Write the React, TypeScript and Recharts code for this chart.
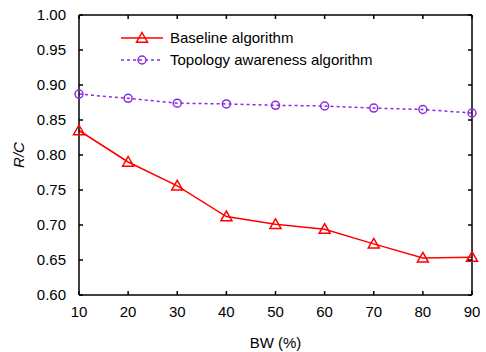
import React from 'react';
import { LineChart, Line, XAxis, YAxis } from 'recharts';

const bw = [10, 20, 30, 40, 50, 60, 70, 80, 90];
const baseline = [0.835, 0.79, 0.756, 0.712, 0.701, 0.694, 0.673, 0.653, 0.654];
const topology = [0.887, 0.881, 0.874, 0.873, 0.871, 0.87, 0.867, 0.865, 0.86];
const yTicks = [0.6, 0.65, 0.7, 0.75, 0.8, 0.85, 0.9, 0.95, 1.0];

const RED = '#ff0000';
const PURPLE = '#8a2be2';
const FONT = 'Liberation Sans, Arial, sans-serif';
const TICK = 4;
const MARGIN = 12;

const rows = bw.map((b, i) => ({ bw: b, baseline: baseline[i], topology: topology[i] }));

const Triangle = (props: any) => {
  const { cx, cy, stroke } = props;
  if (cx == null || cy == null) return null;
  const s = 5.5;
  return (
    <path
      d={`M${cx},${cy - s} L${cx + s},${cy + s * 0.75} L${cx - s},${cy + s * 0.75} Z`}
      fill="none"
      stroke={stroke}
      strokeWidth={1.5}
    />
  );
};

const Circle = (props: any) => {
  const { cx, cy, stroke } = props;
  if (cx == null || cy == null) return null;
  return <circle cx={cx} cy={cy} r={4} fill="none" stroke={stroke} strokeWidth={1.5} />;
};

// ticks drawn inward, labels outside
const BottomTick = (props: any) => {
  const { x, y, payload } = props;
  const ay = y - MARGIN;
  return (
    <g>
      <line x1={x} y1={ay} x2={x} y2={ay - TICK} stroke="#000" strokeWidth={1.5} />
      <text x={x} y={y + 10} textAnchor="middle" fontSize={15} fontFamily={FONT} fill="#000">{payload.value}</text>
    </g>
  );
};

const LeftTick = (props: any) => {
  const { x, y, payload } = props;
  const ax = x + MARGIN;
  return (
    <g>
      <line x1={ax} y1={y} x2={ax + TICK} y2={y} stroke="#000" strokeWidth={1.5} />
      <text x={x - 1} y={y + 5} textAnchor="end" fontSize={15} fontFamily={FONT} fill="#000">{Number(payload.value).toFixed(2)}</text>
    </g>
  );
};

const TopTick = (props: any) => {
  const { x, y } = props;
  return <line x1={x} y1={y} x2={x} y2={y + TICK} stroke="#000" strokeWidth={1.5} />;
};

const RightTick = (props: any) => {
  const { x, y } = props;
  return <line x1={x} y1={y} x2={x - TICK} y2={y} stroke="#000" strokeWidth={1.5} />;
};

const LegendBox = () => (
  <svg width={270} height={44} style={{ fontFamily: FONT, display: 'block' }}>
    <line x1={0} y1={10} x2={42} y2={10} stroke={RED} strokeWidth={1.5} />
    <Triangle cx={21} cy={10} stroke={RED} />
    <text x={49} y={15} fontSize={15} fill="#000">Baseline algorithm</text>
    <line x1={0} y1={32} x2={42} y2={32} stroke={PURPLE} strokeWidth={1.5} strokeDasharray="3 3" />
    <Circle cx={21} cy={32} stroke={PURPLE} />
    <text x={49} y={37} fontSize={15} fill="#000">Topology awareness algorithm</text>
  </svg>
);

export default function App() {
  return (
    <div style={{ position: 'absolute', left: 0, top: 0, width: 486, height: 352, background: '#fff' }}>
      <LineChart width={486} height={352} data={rows} margin={{ top: 14, right: 13, bottom: 0, left: 0 }}>
        <XAxis
          dataKey="bw"
          type="number"
          domain={[10, 90]}
          ticks={bw}
          stroke="#000"
          strokeWidth={1.5}
          tickSize={0}
          tickMargin={MARGIN}
          tickLine={false}
          tick={<BottomTick />}
          height={57}
          label={{ value: 'BW (%)', position: 'insideBottom', offset: 4, style: { fontSize: 15, fill: '#000', fontFamily: FONT } }}
        />
        <XAxis
          xAxisId="top"
          dataKey="bw"
          type="number"
          domain={[10, 90]}
          ticks={bw}
          orientation="top"
          stroke="#000"
          strokeWidth={1.5}
          tickSize={0}
          tickMargin={0}
          tickLine={false}
          tick={<TopTick />}
          height={1}
        />
        <YAxis
          type="number"
          domain={[0.6, 1.0]}
          ticks={yTicks}
          stroke="#000"
          strokeWidth={1.5}
          tickSize={0}
          tickMargin={MARGIN}
          tickLine={false}
          tick={<LeftTick />}
          width={79}
          allowDataOverflow
          label={{ value: 'R/C', angle: -90, position: 'insideLeft', offset: 19, style: { fontSize: 15, fill: '#000', fontFamily: FONT, fontStyle: 'italic', textAnchor: 'middle' } }}
        />
        <YAxis
          yAxisId="right"
          orientation="right"
          type="number"
          domain={[0.6, 1.0]}
          ticks={yTicks}
          stroke="#000"
          strokeWidth={1.5}
          tickSize={0}
          tickMargin={0}
          tickLine={false}
          tick={<RightTick />}
          width={1}
        />
        <Line
          dataKey="topology"
          yAxisId="right"
          stroke={PURPLE}
          strokeWidth={1.5}
          strokeDasharray="3 3"
          dot={<Circle />}
          isAnimationActive={false}
        />
        <Line
          dataKey="baseline"
          xAxisId="top"
          stroke={RED}
          strokeWidth={1.5}
          dot={<Triangle />}
          isAnimationActive={false}
        />
      </LineChart>
      <div style={{ position: 'absolute', left: 121, top: 28 }}>
        <LegendBox />
      </div>
    </div>
  );
}
